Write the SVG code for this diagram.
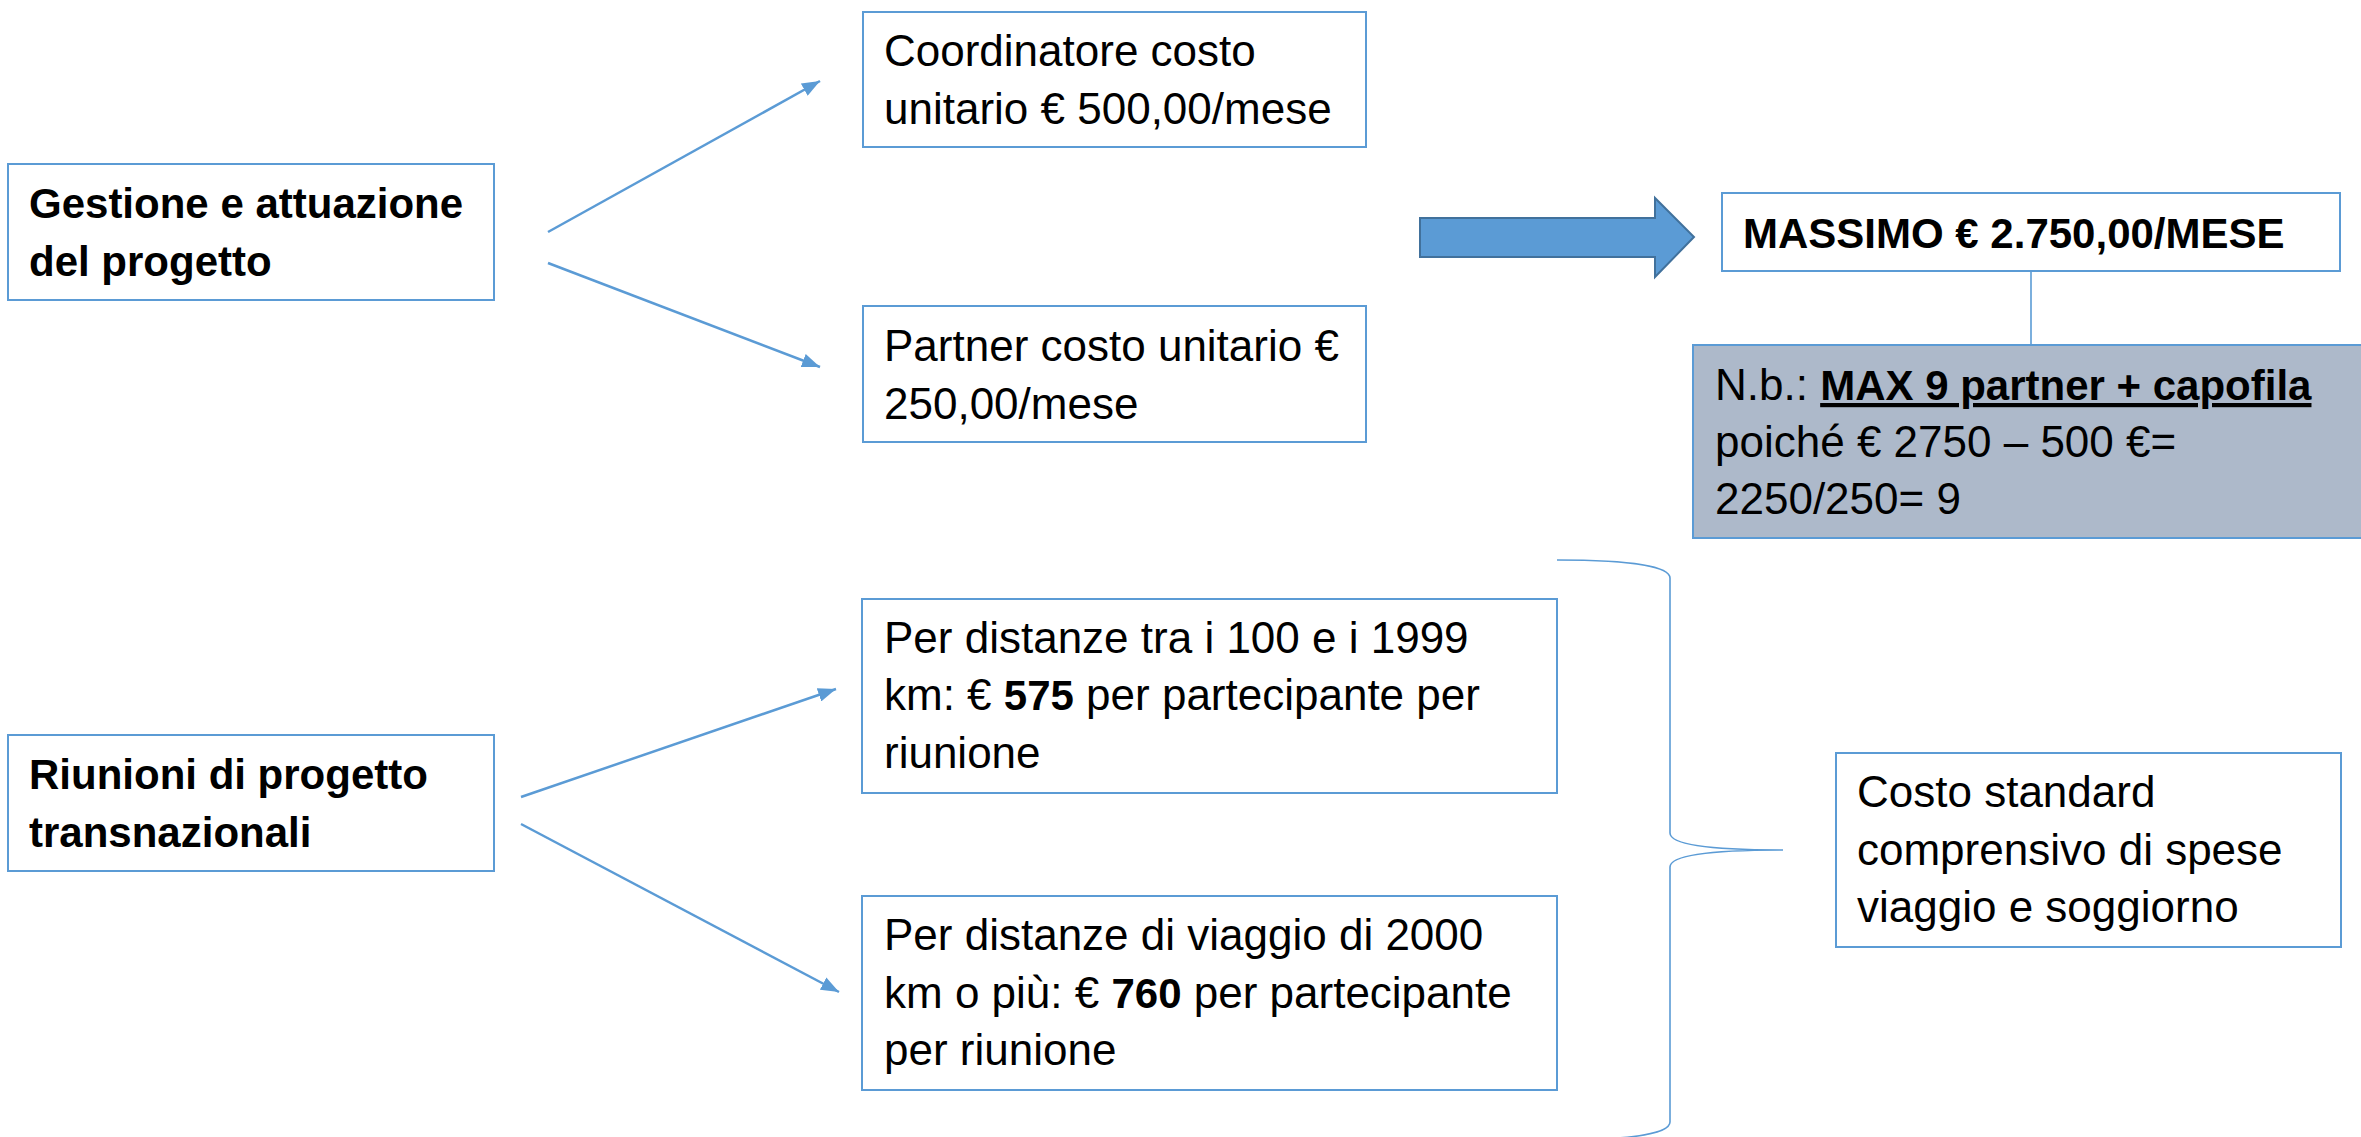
<svg xmlns="http://www.w3.org/2000/svg" width="2361" height="1137" viewBox="0 0 2361 1137">
<style>
.box{fill:#FFFFFF;stroke:#5B9BD5;stroke-width:2}
.note{fill:#ADB9CA;stroke:#5B9BD5;stroke-width:2}
.t{font-family:"Liberation Sans",Arial,sans-serif;font-size:44px;fill:#000000}
.b{font-weight:bold;font-size:42px}
.conn{fill:none;stroke:#5B9BD5;stroke-width:2.5}
.thin{fill:none;stroke:#5B9BD5;stroke-width:1.6}
</style>
<defs>
<marker id="ah" markerUnits="userSpaceOnUse" markerWidth="18" markerHeight="14" refX="18" refY="7" orient="auto">
<path d="M0,0 L18,7 L0,14 Z" fill="#5B9BD5"/>
</marker>
</defs>
<rect width="2361" height="1137" fill="#FFFFFF"/>

<g id="connectors">
<line class="conn" x1="548" y1="232" x2="820" y2="81" marker-end="url(#ah)"/>
<line class="conn" x1="548" y1="263" x2="820" y2="367" marker-end="url(#ah)"/>
<line class="conn" x1="521" y1="797" x2="836" y2="689" marker-end="url(#ah)"/>
<line class="conn" x1="521" y1="824" x2="839" y2="992" marker-end="url(#ah)"/>
<polygon id="block-arrow" points="1420,218 1655,218 1655,198 1694,237 1655,277 1655,257 1420,257" fill="#5B9BD5" stroke="#41719C" stroke-width="2"/>
<line class="thin" x1="2031" y1="271" x2="2031" y2="345"/>
<path id="brace" class="thin" d="M1557,560 C1640,560 1670,568 1670,578 L1670,833 C1670,843 1700,850 1783,850 C1700,850 1670,857 1670,867 L1670,1122 C1670,1132 1640,1140 1557,1140"/>
</g>

<g id="gestione">
<rect class="box" x="8" y="164" width="486" height="136"/>
<text class="t b" x="29" y="218">Gestione e attuazione</text>
<text class="t b" x="29" y="276">del progetto</text>
</g>

<g id="coordinatore">
<rect class="box" x="863" y="12" width="503" height="135"/>
<text class="t" x="884" y="66">Coordinatore costo</text>
<text class="t" x="884" y="124">unitario € 500,00/mese</text>
</g>

<g id="partner">
<rect class="box" x="863" y="306" width="503" height="136"/>
<text class="t" x="884" y="361">Partner costo unitario €</text>
<text class="t" x="884" y="419">250,00/mese</text>
</g>

<g id="massimo">
<rect class="box" x="1722" y="193" width="618" height="78"/>
<text class="t b" x="1743" y="248">MASSIMO € 2.750,00/MESE</text>
</g>

<g id="nota">
<rect class="note" x="1693" y="345" width="680" height="193"/>
<text class="t" x="1715" y="400">N.b.: <tspan class="b" text-decoration="underline">MAX 9 partner + capofila</tspan></text>
<text class="t" x="1715" y="457">poiché € 2750 – 500 €=</text>
<text class="t" x="1715" y="514">2250/250= 9</text>
</g>

<g id="riunioni">
<rect class="box" x="8" y="735" width="486" height="136"/>
<text class="t b" x="29" y="789">Riunioni di progetto</text>
<text class="t b" x="29" y="847">transnazionali</text>
</g>

<g id="distanze-1">
<rect class="box" x="862" y="599" width="695" height="194"/>
<text class="t" x="884" y="653">Per distanze tra i 100 e i 1999</text>
<text class="t" x="884" y="710">km: € <tspan class="b">575</tspan> per partecipante per</text>
<text class="t" x="884" y="768">riunione</text>
</g>

<g id="distanze-2">
<rect class="box" x="862" y="896" width="695" height="194"/>
<text class="t" x="884" y="950">Per distanze di viaggio di 2000</text>
<text class="t" x="884" y="1008">km o più: € <tspan class="b">760</tspan> per partecipante</text>
<text class="t" x="884" y="1065">per riunione</text>
</g>

<g id="costo-standard">
<rect class="box" x="1836" y="753" width="505" height="194"/>
<text class="t" x="1857" y="807">Costo standard</text>
<text class="t" x="1857" y="865">comprensivo di spese</text>
<text class="t" x="1857" y="922">viaggio e soggiorno</text>
</g>
</svg>
